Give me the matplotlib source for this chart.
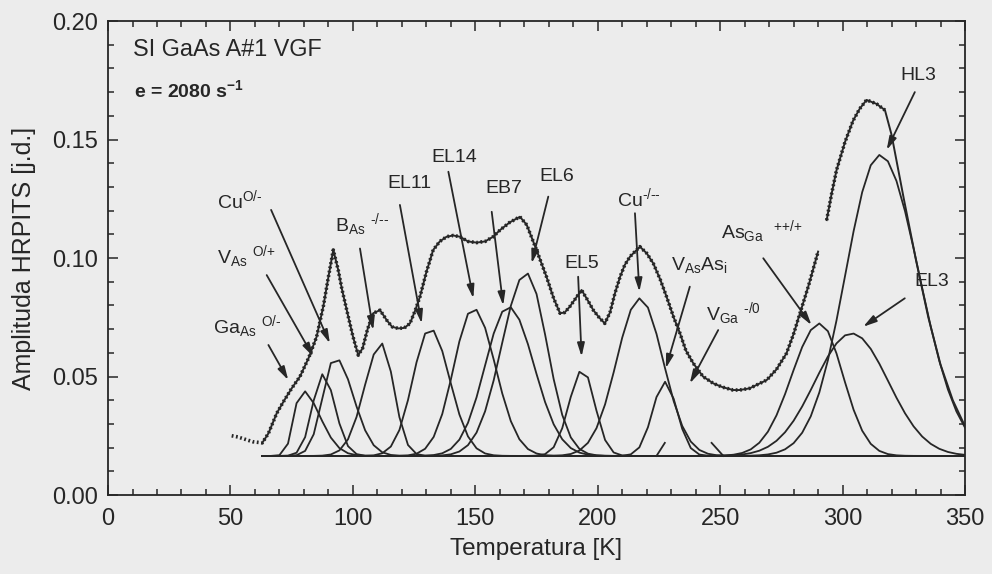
import numpy as np
import matplotlib
matplotlib.use("Agg")
import matplotlib.pyplot as plt
from matplotlib.ticker import MultipleLocator, FormatStrFormatter

plt.rcParams["font.family"] = ["Liberation Sans", "DejaVu Sans"]
plt.rcParams["mathtext.fontset"] = "custom"
plt.rcParams["mathtext.rm"] = "Liberation Sans"
plt.rcParams["mathtext.it"] = "Liberation Sans:italic"
plt.rcParams["mathtext.bf"] = "Liberation Sans:bold"

BG = "#ececec"
INK = "#262626"

meas_T = [50.5, 53, 56, 59, 63, 65.5, 68.9, 72, 75, 78.4, 82, 85.2, 88, 90, 92.0, 94, 95.5,
          97.5, 100, 102.2, 104, 106, 108.3, 111.1, 113.8, 116, 118.5, 121, 123.3, 125.5,
          127.4, 130, 132.8, 135.5, 138.3, 141, 143.7, 147, 150.5, 154, 157.3, 160.1, 164,
          168.2, 171, 175, 179.1, 182, 184.6, 186.5, 188.6, 191, 193.4, 196, 198.2, 200.5,
          202.9, 205, 207, 209.1, 211, 213.2, 217.2, 220, 222.7, 225.5, 228.1, 231, 233.6,
          236, 239, 243, 247.2, 251, 255.3, 258, 262, 265, 269, 273, 277.1, 280, 282.6, 286,
          290, np.nan, 293.5, 295.5, 297.5, 301, 304.3, 307, 309.8, 313.9, 317.3]
meas_A = [0.025, 0.0245, 0.0235, 0.0225, 0.022, 0.026, 0.0345, 0.040, 0.045, 0.050, 0.058,
          0.0668, 0.080, 0.092, 0.1034, 0.095, 0.087, 0.078, 0.067, 0.059, 0.062, 0.070,
          0.0767, 0.078, 0.0738, 0.071, 0.0703, 0.0705, 0.0724, 0.078, 0.0837, 0.094, 0.1034,
          0.107, 0.109, 0.1095, 0.109, 0.107, 0.1065, 0.107, 0.109, 0.1118, 0.115, 0.1174,
          0.114, 0.1034, 0.092, 0.083, 0.0767, 0.077, 0.0795, 0.083, 0.0865, 0.082, 0.078,
          0.075, 0.0724, 0.077, 0.085, 0.092, 0.097, 0.1006, 0.1048, 0.102, 0.0977, 0.091,
          0.0837, 0.075, 0.0682, 0.061, 0.0556, 0.050, 0.0471, 0.0455, 0.0443, 0.0443, 0.045,
          0.0465, 0.0485, 0.053, 0.0598, 0.068, 0.0767, 0.088, 0.1027, np.nan, 0.116, 0.127,
          0.137, 0.149, 0.158, 0.163, 0.1667, 0.165, 0.1624]

# high-temperature end of the fitted curve (solid only)
fit_tail_T = [320, 325, 330, 335, 340, 345, 350]
fit_tail_A = [0.152, 0.125, 0.099, 0.075, 0.055, 0.040, 0.029]

baseline = 0.0165
base_T = [63, 350]

# Gaussian components: centre [K], peak amplitude, left / right width [K]
peak_names = ["GaAs", "VAs", "Cu0", "BAs", "EL11", "EL14", "EB7", "EL6", "EL5",
              "Cu-", "VAsAsi", "AsGa", "EL3", "HL3"]
peak_T = [79.0, 87.7, 92.7, 111.7, 131.5, 149.2, 163.5, 170.8, 193.8, 217.2, 227.4,
          290.7, 303.7, 315.2]
peak_A = [0.0443, 0.051, 0.058, 0.064, 0.0703, 0.0788, 0.0795, 0.0937, 0.053, 0.083,
          0.0478, 0.0724, 0.0682, 0.1435]
sig_l = [3.0, 4.2, 5.0, 7.0, 7.0, 8.0, 9.5, 10.0, 5.5, 9.5, 5.0, 11.5, 15.0, 14.0]
sig_r = [7.5, 5.0, 7.5, 5.0, 8.0, 9.0, 10.5, 8.5, 5.0, 9.5, 5.0, 9.5, 15.0, 16.0]

# two short stray curve fragments near the baseline
frag_T = [224.0, 227.4, np.nan, 246.5, 251.3]
frag_A = [0.0165, 0.022, np.nan, 0.022, 0.0165]


def main():
    fig = plt.figure(figsize=(9.92, 5.74), dpi=100, facecolor=BG)
    ax = fig.add_axes([0.1089, 0.1376, 0.8639, 0.8258], facecolor=BG)

    grid = np.arange(63.0, 350.1, 3.5)
    for c, a, sl, sr in zip(peak_T, peak_A, sig_l, sig_r):
        s = np.where(grid < c, sl, sr)
        y = baseline + (a - baseline) * np.exp(-0.5 * ((grid - c) / s) ** 2)
        ax.plot(grid, y, color=INK, lw=1.3)
    ax.plot(base_T, [baseline, baseline], color=INK, lw=1.4)
    ax.plot(frag_T, frag_A, color=INK, lw=1.3)

    mT = np.array(meas_T); mA = np.array(meas_A)
    sel = ~(mT < 63)
    fT = np.concatenate([mT[sel], fit_tail_T]); fA = np.concatenate([mA[sel], fit_tail_A])
    ax.plot(fT, fA, color=INK, lw=1.4)
    ax.plot(mT, mA, color=INK, lw=2.6, ls=(0, (0.5, 0.7)))

    ax.set_xlim(0, 350); ax.set_ylim(0, 0.20)
    ax.xaxis.set_major_locator(MultipleLocator(50)); ax.xaxis.set_minor_locator(MultipleLocator(10))
    ax.yaxis.set_major_locator(MultipleLocator(0.05)); ax.yaxis.set_minor_locator(MultipleLocator(0.01))
    ax.yaxis.set_major_formatter(FormatStrFormatter("%.2f"))
    ax.tick_params(which="both", direction="in", top=True, right=True, colors=INK,
                   labelsize=17, width=1.1)
    ax.tick_params(axis="x", pad=9)
    ax.tick_params(axis="y", pad=7)
    ax.tick_params(which="major", length=7)
    ax.tick_params(which="minor", length=4.5)
    for sp in ax.spines.values():
        sp.set_color(INK); sp.set_linewidth(1.3)
    ax.set_xlabel("Temperatura [K]", fontsize=17.5, color=INK, labelpad=6)
    ax.set_ylabel("Amplituda HRPITS [j.d.]", fontsize=18, color=INK, labelpad=12)

    ax.text(10.2, 0.1878, "SI GaAs A#1 VGF", fontsize=16.8, color=INK, va="center")
    ax.text(10.5, 0.1710, r"e = 2080 s$^{\mathbf{-1}}$", fontsize=14, color=INK,
            va="center", fontweight="bold")

    labels = [
        (r"Cu$^{\text{O/-}}$", (44.5, 0.1245), (66.6, 0.1203), (90.6, 0.064)),
        (r"V$_{\mathrm{As}}$ $^{\text{O/+}}$", (44.4, 0.1006), (64.8, 0.0928), (83.8, 0.0584)),
        (r"Ga$_{\mathrm{As}}$ $^{\text{O/-}}$", (42.8, 0.0710), (65.5, 0.0633), (73.6, 0.0485)),
        (r"B$_{\mathrm{As}}$ $^{\text{-/--}}$", (92.5, 0.1140), (102.9, 0.104), (108.3, 0.0696)),
        ("EL11", (114.0, 0.1315), (119.2, 0.1224), (128.1, 0.0724)),
        ("EL14", (132.2, 0.1426), (139.0, 0.1364), (149.2, 0.083)),
        ("EB7", (154.0, 0.1295), (156.7, 0.1195), (161.4, 0.080)),
        ("EL6", (176.2, 0.1343), (179.8, 0.1259), (173.0, 0.0978)),
        ("EL5", (186.3, 0.0978), (192.0, 0.0921), (193.4, 0.0584)),
        (r"Cu$^{\text{-/--}}$", (208.0, 0.1253), (215.2, 0.1189), (217.0, 0.0858)),
        (r"V$_{\mathrm{As}}$As$_{\mathrm{i}}$", (229.8, 0.0970), (237.6, 0.0879), (227.8, 0.0535)),
        (r"V$_{\mathrm{Ga}}$ $^{\text{-/0}}$", (244.3, 0.0767), (249.2, 0.0696), (237.6, 0.0471)),
        (r"As$_{\mathrm{Ga}}$  $^{\text{++/+}}$", (250.4, 0.1110), (267.6, 0.0999), (287.3, 0.0717)),
        ("HL3", (323.6, 0.1772), (329.5, 0.170), (318.0, 0.1456)),
        ("EL3", (329.3, 0.0900), (325.4, 0.083), (308.4, 0.071)),
    ]
    for txt, pos, a0, a1 in labels:
        ax.text(pos[0], pos[1], txt, fontsize=14, color=INK, va="center", ha="left")
        ax.annotate("", xy=a1, xytext=a0,
                    arrowprops=dict(arrowstyle="-|>,head_length=0.8,head_width=0.22",
                                    lw=1.3, color=INK, shrinkA=0, shrinkB=0))

    fig.savefig("out.png", dpi=100, facecolor=BG)
    plt.close(fig)


if __name__ == "__main__":
    main()
